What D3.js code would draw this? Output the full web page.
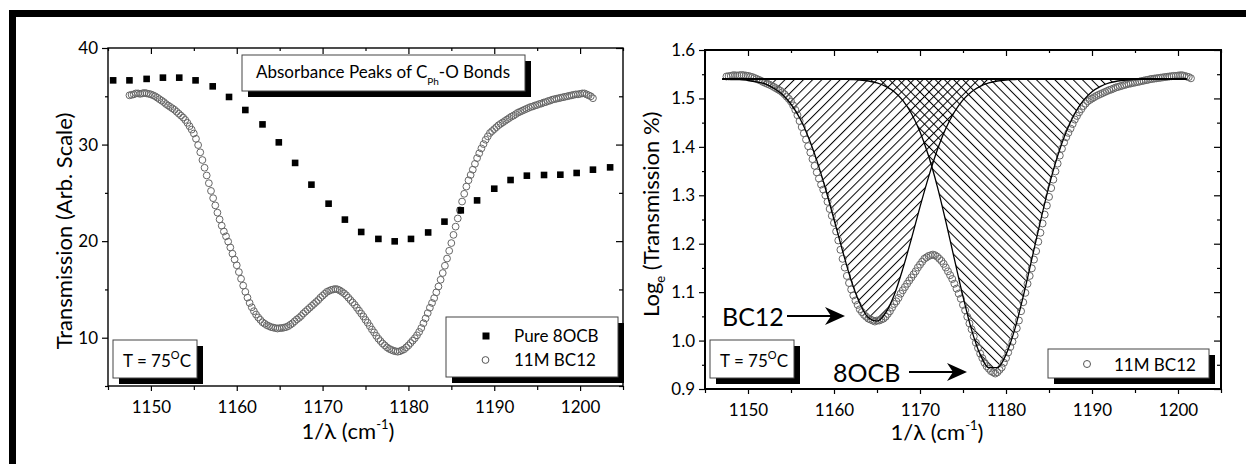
<!DOCTYPE html>
<html><head><meta charset="utf-8">
<script src="https://cdn.jsdelivr.net/npm/d3@7"></script>
<style>
body{margin:0;background:#fff}
svg{display:block}
text{font-family:Lato,"Open Sans",sans-serif;fill:#000}
</style>
</head><body>
<svg id="chart" width="1246" height="464"></svg>
<script>
// ---------- data ----------
const xMajorTicks = [1150, 1160, 1170, 1180, 1190, 1200];
const xMinorTicks = [1145, 1155, 1165, 1175, 1185, 1195, 1205];
const leftYMajorTicks = [10, 20, 30, 40];
const leftYMinorTicks = [5, 15, 25, 35];
const rightYMajorTicks = [0.9, 1.0, 1.1, 1.2, 1.3, 1.4, 1.5, 1.6];
const rightYMinorTicks = [0.95, 1.05, 1.15, 1.25, 1.35, 1.45, 1.55];

// Pure 8OCB (filled squares, left panel)
const pureWavenumber = [1145.6,1147.5,1149.5,1151.4,1153.3,1155.2,1157.2,1159.1,1161.0,1163.0,1164.9,1166.8,1168.7,1170.7,1172.6,1174.5,1176.5,1178.4,1180.3,1182.3,1184.2,1186.1,1188.0,1190.0,1191.9,1193.8,1195.8,1197.7,1199.6,1201.5,1203.5];
const pureTransmission = [36.65,36.65,36.8,36.93,36.93,36.65,36.03,34.93,33.58,32.09,30.23,28.1,25.85,23.88,22.23,20.95,20.23,19.98,20.23,20.9,22.02,23.19,24.22,25.43,26.33,26.78,26.85,26.88,27.06,27.4,27.64];

// 11M BC12 (open circles)
const bcWavenumber = [1147.5,1147.75,
 1148,1148.25,1148.5,1148.75, 1149,1149.25,1149.5,1149.75, 1150,1150.25,1150.5,1150.75, 1151,1151.25,1151.5,1151.75,
 1152,1152.25,1152.5,1152.75, 1153,1153.25,1153.5,1153.75, 1154,1154.25,1154.5,1154.75, 1155,1155.25,1155.5,1155.75,
 1156,1156.25,1156.5,1156.75, 1157,1157.25,1157.5,1157.75, 1158,1158.25,1158.5,1158.75, 1159,1159.25,1159.5,1159.75,
 1160,1160.25,1160.5,1160.75, 1161,1161.25,1161.5,1161.75, 1162,1162.25,1162.5,1162.75, 1163,1163.25,1163.5,1163.75,
 1164,1164.25,1164.5,1164.75, 1165,1165.25,1165.5,1165.75, 1166,1166.25,1166.5,1166.75, 1167,1167.25,1167.5,1167.75,
 1168,1168.25,1168.5,1168.75, 1169,1169.25,1169.5,1169.75, 1170,1170.25,1170.5,1170.75, 1171,1171.25,1171.5,1171.75,
 1172,1172.25,1172.5,1172.75, 1173,1173.25,1173.5,1173.75, 1174,1174.25,1174.5,1174.75, 1175,1175.25,1175.5,1175.75,
 1176,1176.25,1176.5,1176.75, 1177,1177.25,1177.5,1177.75, 1178,1178.25,1178.5,1178.75, 1179,1179.25,1179.5,1179.75,
 1180,1180.25,1180.5,1180.75, 1181,1181.25,1181.5,1181.75, 1182,1182.25,1182.5,1182.75, 1183,1183.25,1183.5,1183.75,
 1184,1184.25,1184.5,1184.75, 1185,1185.25,1185.5,1185.75, 1186,1186.25,1186.5,1186.75, 1187,1187.25,1187.5,1187.75,
 1188,1188.25,1188.5,1188.75, 1189,1189.25,1189.5,1189.75, 1190,1190.25,1190.5,1190.75, 1191,1191.25,1191.5,1191.75,
 1192,1192.25,1192.5,1192.75, 1193,1193.25,1193.5,1193.75, 1194,1194.25,1194.5,1194.75, 1195,1195.25,1195.5,1195.75,
 1196,1196.25,1196.5,1196.75, 1197,1197.25,1197.5,1197.75, 1198,1198.25,1198.5,1198.75, 1199,1199.25,1199.5,1199.75,
 1200,1200.25,1200.5,1200.75, 1201,1201.25,1201.5];
const bcTransmission = [35.1,35.15,
 35.2,35.3,35.3,35.25, 35.3,35.35,35.3,35.25, 35.2,35.1,35.0,34.85, 34.7,34.55,34.4,34.2,
 34.05,33.9,33.75,33.6, 33.4,33.2,33.0,32.8, 32.55,32.25,31.9,31.55, 31.15,30.6,29.95,29.2,
 28.4,27.6,26.8,26.0, 25.2,24.45,23.7,22.95, 22.25,21.6,21.0,20.5, 19.95,19.35,18.7,18.1,
 17.5,16.8,16.1,15.4, 14.75,14.15,13.6,13.15, 12.75,12.4,12.1,11.85, 11.6,11.45,11.3,11.2,
 11.1,11.05,11.0,10.95, 11.0,11.0,11.05,11.1, 11.2,11.35,11.5,11.7, 11.9,12.05,12.25,12.5,
 12.7,12.9,13.1,13.3, 13.5,13.7,13.9,14.15, 14.35,14.55,14.75,14.85, 14.95,15.0,15.05,15.0,
 14.9,14.75,14.6,14.4, 14.15,13.9,13.65,13.4, 13.1,12.8,12.5,12.2, 11.85,11.55,11.2,10.85,
 10.55,10.2,9.9,9.65, 9.4,9.2,9.0,8.85, 8.75,8.65,8.6,8.55, 8.6,8.7,8.8,9.0,
 9.2,9.45,9.7,9.95, 10.25,10.6,11.0,11.5, 12.0,12.55,13.1,13.6, 14.1,14.7,15.3,16.0,
 16.7,17.45,18.2,19.0, 19.8,20.65,21.5,22.35, 23.2,24.1,24.9,25.65, 26.3,26.85,27.4,28.0,
 28.6,29.1,29.6,30.05, 30.5,30.85,31.2,31.4, 31.6,31.8,32.0,32.15, 32.3,32.45,32.6,32.75,
 32.9,33.0,33.15,33.3, 33.4,33.5,33.6,33.7, 33.8,33.9,33.95,34.05, 34.1,34.2,34.25,34.35,
 34.4,34.5,34.55,34.65, 34.7,34.75,34.8,34.85, 34.9,34.95,35.0,35.05, 35.1,35.15,35.2,35.2,
 35.25,35.3,35.3,35.2, 35.1,35.0,34.8];
const bcLogTransmission = [1.5453,1.5459,
 1.5465,1.5478,1.5478,1.5472, 1.5478,1.5484,1.5478,1.5472, 1.5465,1.5453,1.5441,1.5422, 1.5403,1.5384,1.5366,1.5340,
 1.5321,1.5302,1.5283,1.5263, 1.5237,1.5211,1.5185,1.5159, 1.5126,1.5085,1.5038,1.4990, 1.4935,1.4857,1.4764,1.4654,
 1.4533,1.4409,1.4281,1.4150, 1.4014,1.3883,1.3747,1.3608, 1.3473,1.3345,1.3222,1.3118, 1.2999,1.2867,1.2718,1.2577,
 1.2430,1.2253,1.2068,1.1875, 1.1688,1.1508,1.1335,1.1189, 1.1055,1.0934,1.0828,1.0737, 1.0645,1.0588,1.0531,1.0492,
 1.0453,1.0434,1.0414,1.0394, 1.0414,1.0414,1.0434,1.0453, 1.0492,1.0550,1.0607,1.0682, 1.0755,1.0810,1.0881,1.0969,
 1.1038,1.1106,1.1173,1.1239, 1.1303,1.1367,1.1430,1.1508, 1.1569,1.1629,1.1688,1.1717, 1.1746,1.1761,1.1775,1.1761,
 1.1732,1.1688,1.1644,1.1584, 1.1508,1.1430,1.1351,1.1271, 1.1173,1.1072,1.0969,1.0864, 1.0737,1.0626,1.0492,1.0354,
 1.0233,1.0086,0.9956,0.9845, 0.9731,0.9638,0.9542,0.9469, 0.9420,0.9370,0.9345,0.9320, 0.9345,0.9395,0.9445,0.9542,
 0.9638,0.9754,0.9868,0.9978, 1.0107,1.0253,1.0414,1.0607, 1.0792,1.0986,1.1173,1.1335, 1.1492,1.1673,1.1847,1.2041,
 1.2227,1.2418,1.2601,1.2788, 1.2967,1.3149,1.3324,1.3493, 1.3655,1.3820,1.3962,1.4091, 1.4200,1.4289,1.4378,1.4472,
 1.4564,1.4639,1.4713,1.4778, 1.4843,1.4893,1.4942,1.4969, 1.4997,1.5024,1.5051,1.5072, 1.5092,1.5112,1.5132,1.5152,
 1.5172,1.5185,1.5205,1.5224, 1.5237,1.5250,1.5263,1.5276, 1.5289,1.5302,1.5308,1.5321, 1.5327,1.5340,1.5346,1.5359,
 1.5366,1.5378,1.5384,1.5397, 1.5403,1.5410,1.5416,1.5422, 1.5428,1.5435,1.5441,1.5447, 1.5453,1.5459,1.5465,1.5465,
 1.5472,1.5478,1.5478,1.5465, 1.5453,1.5441,1.5416];

// Peak fits (right panel)
const fitWavenumber = [1147,1148,1149,1150,1151,1152,1153,1154,1155,1156,1157,1158,1159,1160,1161,1162,1163,1164,1165,1166,1167,1168,1169,1170,1171,1172,1173,1174,1175,1176,1177,1178,1179,1180,1181,1182,1183,1184,1185,1186,1187,1188,1189,1190,1191,1192,1193,1194,1195,1196,1197,1198,1199,1200,1201];
const fitBC12 = [1.540,1.539,1.539,1.537,1.534,1.530,1.521,1.508,1.488,1.460,1.421,1.372,1.314,1.250,1.185,1.124,1.077,1.047,1.040,1.057,1.094,1.148,1.210,1.276,1.338,1.393,1.438,1.472,1.497,1.514,1.525,1.532,1.536,1.538,1.539,
 1.540,1.540,1.540,1.540,1.540,1.540,1.540,1.540,1.540,1.540,1.540,1.540,1.540,1.540,1.540,1.540,1.540,1.540,1.540,1.540];
const fit8OCB = [1.540,1.540,1.540,1.540,1.540,1.540,1.540,1.540,1.540,1.540,1.540,1.540,1.540,
 1.540,1.540,1.539,1.538,1.536,1.532,1.525,1.514,1.496,1.469,1.431,1.381,1.319,1.246,1.168,1.091,1.022,0.971,0.944,0.944,0.971,1.022,1.091,1.168,1.246,1.319,1.381,1.431,1.469,1.496,1.514,1.525,1.532,1.536,1.538,1.539,
 1.540,1.540,1.540,1.540,1.540,1.540];
const fitBaseline = [1.54, 1.54];
const fitBaselineRange = [1147, 1201];

// ---------- drawing ----------
const svg = d3.select('#chart');
const FONT = 'Lato, "Open Sans", sans-serif';

// outer black frame
svg.append('rect').attr('x', 12.5).attr('y', 13.5).attr('width', 1400).attr('height', 1000)
  .attr('fill', 'none').attr('stroke', '#000').attr('stroke-width', 7);

const defs = svg.append('defs');
function hatch(id, angle) {
  const s = 6.5;
  const p = defs.append('pattern').attr('id', id).attr('patternUnits', 'userSpaceOnUse')
    .attr('width', s).attr('height', s).attr('patternTransform', `rotate(${angle})`);
  p.append('line').attr('x1', 0.5).attr('y1', 0).attr('x2', 0.5).attr('y2', s)
    .attr('stroke', '#000').attr('stroke-width', 1);
}
hatch('hatchFwd', 45);
hatch('hatchBack', -45);

function axes(g, x, y, yMajor, yMinor, yFmt, lw) {
  const [xa, xb] = x.range();
  const [yb, ya] = y.range();
  const style = sel => {
    sel.select('.domain').remove();
    sel.selectAll('line').attr('stroke', '#000').attr('stroke-width', 1.2);
    sel.selectAll('text').attr('font-family', FONT).attr('font-size', 17).attr('fill', '#000');
  };
  g.append('g').attr('transform', `translate(0,${yb})`)
    .call(d3.axisBottom(x).tickValues(xMajorTicks).tickSize(5).tickPadding(10).tickFormat(d3.format('d'))).call(style);
  g.append('g').attr('transform', `translate(0,${yb})`)
    .call(d3.axisBottom(x).tickValues(xMinorTicks).tickSize(4).tickFormat('')).call(style);
  g.append('g').attr('transform', `translate(0,${ya})`)
    .call(d3.axisTop(x).tickValues(xMajorTicks).tickSize(-6).tickFormat('')).call(style);
  g.append('g').attr('transform', `translate(0,${ya})`)
    .call(d3.axisTop(x).tickValues(xMinorTicks).tickSize(-3).tickFormat('')).call(style);
  g.append('g').attr('transform', `translate(${xa},0)`)
    .call(d3.axisLeft(y).tickValues(yMajor).tickSize(6).tickPadding(4).tickFormat(yFmt)).call(style);
  g.append('g').attr('transform', `translate(${xa},0)`)
    .call(d3.axisLeft(y).tickValues(yMinor).tickSize(3).tickFormat('')).call(style);
  g.append('g').attr('transform', `translate(${xb},0)`)
    .call(d3.axisRight(y).tickValues(yMajor).tickSize(-7).tickFormat('')).call(style);
  g.append('g').attr('transform', `translate(${xb},0)`)
    .call(d3.axisRight(y).tickValues(yMinor).tickSize(-4).tickFormat('')).call(style);
  g.append('rect').attr('x', xa).attr('y', ya).attr('width', xb - xa).attr('height', yb - ya)
    .attr('fill', 'none').attr('stroke', '#000').attr('stroke-width', lw);
}

function shadowBox(g, x, y, w, h) {
  g.append('rect').attr('x', x + 6).attr('y', y + 6).attr('width', w).attr('height', h).attr('fill', '#000');
  g.append('rect').attr('x', x).attr('y', y).attr('width', w).attr('height', h)
    .attr('fill', '#fff').attr('stroke', '#444').attr('stroke-width', 1);
}

function tempBox(g, x, y) {
  shadowBox(g, x, y, 84, 38);
  const t = g.append('text').attr('x', x + 10).attr('y', y + 27).attr('font-size', 17);
  t.append('tspan').text('T = 75');
  t.append('tspan').attr('font-size', 11).attr('dy', -8).text('O');
  t.append('tspan').attr('dy', 8).text('C');
}

function xLabel(g, cx, y) {
  const t = g.append('text').attr('x', cx).attr('y', y).attr('font-size', 22).attr('text-anchor', 'middle');
  t.append('tspan').text('1/λ (cm');
  t.append('tspan').attr('font-size', 13).attr('dy', -10).text('-1');
  t.append('tspan').attr('dy', 10).text(')');
}

const bcIdx = d3.range(Math.min(bcWavenumber.length, bcTransmission.length, bcLogTransmission.length));

// ===== Left panel =====
const xL = d3.scaleLinear().domain([1145, 1205]).range([108, 623]);
const yL = d3.scaleLinear().domain([5, 40]).range([386, 48]);
const gL = svg.append('g');

gL.append('g').selectAll('circle').data(bcIdx).join('circle')
  .attr('cx', i => xL(bcWavenumber[i])).attr('cy', i => yL(bcTransmission[i])).attr('r', 3.4)
  .attr('fill', 'none').attr('stroke', '#666').attr('stroke-width', 1);
gL.append('g').selectAll('rect').data(d3.range(pureWavenumber.length)).join('rect')
  .attr('x', i => xL(pureWavenumber[i]) - 3.3).attr('y', i => yL(pureTransmission[i]) - 3.3)
  .attr('width', 6.6).attr('height', 6.6).attr('fill', '#000');

axes(gL, xL, yL, leftYMajorTicks, leftYMinorTicks, d3.format('d'), 1.4);

shadowBox(gL, 242, 55, 283, 36);
{
  const t = gL.append('text').attr('x', 256).attr('y', 78).attr('font-size', 17);
  t.append('tspan').text('Absorbance Peaks of C');
  t.append('tspan').attr('font-size', 10).attr('dy', 7).text('Ph');
  t.append('tspan').attr('dy', -7).text('-O Bonds');
}
tempBox(gL, 113, 340);

shadowBox(gL, 446, 317, 172, 60);
gL.append('rect').attr('x', 482.5).attr('y', 332.5).attr('width', 7).attr('height', 7).attr('fill', '#000');
gL.append('text').attr('x', 514).attr('y', 342).attr('font-size', 17).text('Pure 8OCB');
gL.append('circle').attr('cx', 485.5).attr('cy', 360).attr('r', 3.4).attr('fill', 'none').attr('stroke', '#555');
gL.append('text').attr('x', 514).attr('y', 366).attr('font-size', 17).text('11M BC12');

gL.append('text').attr('transform', 'translate(72,231) rotate(-90)').attr('text-anchor', 'middle')
  .attr('font-size', 22).text('Transmission (Arb. Scale)');
xLabel(gL, 348, 439);

// ===== Right panel =====
const xR = d3.scaleLinear().domain([1145, 1205]).range([705, 1221]);
const yR = d3.scaleLinear().domain([0.9, 1.6]).range([389, 50]);
const gR = svg.append('g');

const fitIdx = d3.range(fitWavenumber.length);
const areaBC = d3.area().curve(d3.curveMonotoneX)
  .x(i => xR(fitWavenumber[i])).y0(() => yR(fitBaseline[0])).y1(i => yR(fitBC12[i]));
const area8 = d3.area().curve(d3.curveMonotoneX)
  .x(i => xR(fitWavenumber[i])).y0(() => yR(fitBaseline[0])).y1(i => yR(fit8OCB[i]));
gR.append('path').attr('d', areaBC(fitIdx)).attr('fill', 'url(#hatchFwd)');
gR.append('path').attr('d', area8(fitIdx)).attr('fill', 'url(#hatchBack)');

gR.append('g').selectAll('circle').data(bcIdx).join('circle')
  .attr('cx', i => xR(bcWavenumber[i])).attr('cy', i => yR(bcLogTransmission[i])).attr('r', 3.5)
  .attr('fill', 'none').attr('stroke', '#666').attr('stroke-width', 1);

const lineBC = d3.line().curve(d3.curveMonotoneX).x(i => xR(fitWavenumber[i])).y(i => yR(fitBC12[i]));
const line8 = d3.line().curve(d3.curveMonotoneX).x(i => xR(fitWavenumber[i])).y(i => yR(fit8OCB[i]));
gR.append('path').attr('d', lineBC(fitIdx)).attr('fill', 'none').attr('stroke', '#000').attr('stroke-width', 1.3);
gR.append('path').attr('d', line8(fitIdx)).attr('fill', 'none').attr('stroke', '#000').attr('stroke-width', 1.3);
gR.append('line').attr('x1', xR(fitBaselineRange[0])).attr('x2', xR(fitBaselineRange[1]))
  .attr('y1', yR(fitBaseline[0])).attr('y2', yR(fitBaseline[1])).attr('stroke', '#000').attr('stroke-width', 2);

axes(gR, xR, yR, rightYMajorTicks, rightYMinorTicks, d3.format('.1f'), 2);

tempBox(gR, 710, 340);
shadowBox(gR, 1048, 349, 161, 29);
gR.append('circle').attr('cx', 1087).attr('cy', 364).attr('r', 3.5).attr('fill', 'none').attr('stroke', '#555');
gR.append('text').attr('x', 1114).attr('y', 370.5).attr('font-size', 17).text('11M BC12');

function arrow(g, x1, x2, y) {
  g.append('line').attr('x1', x1).attr('x2', x2 - 12).attr('y1', y).attr('y2', y).attr('stroke', '#000').attr('stroke-width', 2);
  g.append('path').attr('d', `M${x2},${y} L${x2 - 20},${y - 9} L${x2 - 14},${y} L${x2 - 20},${y + 9} Z`).attr('fill', '#000');
}
gR.append('text').attr('x', 722).attr('y', 326).attr('font-size', 25).text('BC12');
arrow(gR, 787, 845, 316);
gR.append('text').attr('x', 833).attr('y', 382).attr('font-size', 25).text('8OCB');
arrow(gR, 909, 967, 372);

{
  const t = gR.append('text').attr('transform', 'translate(659,317) rotate(-90)').attr('text-anchor', 'start').attr('font-size', 22);
  t.append('tspan').text('Log');
  t.append('tspan').attr('font-size', 13).attr('dy', 6).text('e');
  t.append('tspan').attr('dy', -6).text(' (Transmission %)');
}
xLabel(gR, 937, 440);
</script>
</body></html>
